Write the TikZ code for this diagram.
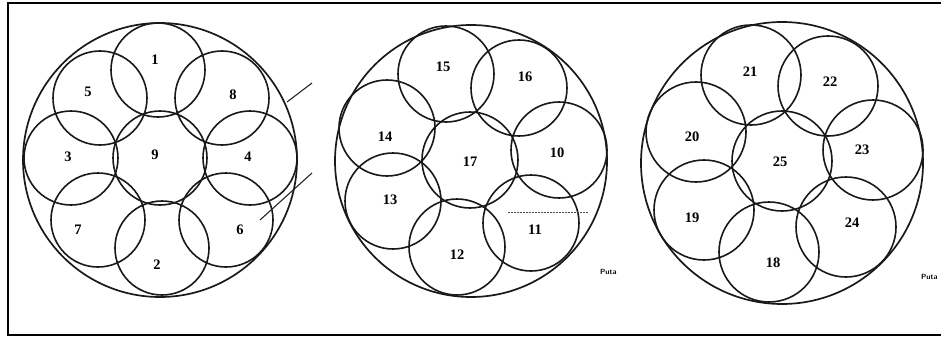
\documentclass[tikz,border=0pt]{standalone}
\usepackage{fontspec}
\setmainfont{Liberation Serif}
\usepackage{tikz}
\usetikzlibrary{positioning, calc}

\begin{document}
\begin{tikzpicture}[
  x=1pt, y=-1pt,
  every node/.style={font=\bfseries},
  outer/.style={draw=black!90, line width=1.7pt},
  cell/.style={draw=black!90, line width=1.6pt},
  num/.style={font=\fontsize{14.5}{14.5}\selectfont\bfseries, inner sep=0pt},
  tag/.style={font=\fontsize{7.5}{7.5}\selectfont\sffamily\bfseries, inner sep=0pt},
  lead/.style={draw=black!85, line width=1.1pt}
]
\useasboundingbox (0,0) rectangle (941,337);

% Frame
\draw[line width=1.8pt] (941,3) -- (8,3) -- (8,335) -- (941,335);

% Panel 1: ring of eight cells
\draw[outer] (160,160) circle (137);
\draw[cell] (160,158) circle (47);
\draw[cell] (158,70) circle (47);
\draw[cell] (100,98) circle (47);
\draw[cell] (222,98) circle (47);
\draw[cell] (71,158) circle (47);
\draw[cell] (250,158) circle (47);
\draw[cell] (98,220) circle (47);
\draw[cell] (226,220) circle (47);
\draw[cell] (162,248) circle (47);

\node[num] (n1) at (155,60) {1};
\node[num] (n5) at (88,92) {5};
\node[num] (n8) at (233,95) {8};
\node[num] (n3) at (68,157) {3};
\node[num] (n9) at (155,155) {9};
\node[num] (n4) at (248,157) {4};
\node[num] (n7) at (78,230) {7};
\node[num] (n6) at (240,230) {6};
\node[num] (n2) at (157,265) {2};

% Leader lines
\coordinate (p1a) at (287,102);
\coordinate (p1b) at (312,83);
\coordinate (p2a) at (260,220);
\coordinate (p2b) at (312,173);
\draw[lead] (p1a) -- (p1b);
\draw[lead] (p2a) -- (p2b);

% Panel 2: ring of seven cells
\draw[outer] (471,161) circle (136);
\draw[cell] (470,160) circle (48);
\draw[cell] (446,74) circle (48);
\draw[cell] (519,88) circle (48);
\draw[cell] (559,150) circle (48);
\draw[cell] (531,223) circle (48);
\draw[cell] (457,247) circle (48);
\draw[cell] (393,201) circle (48);
\draw[cell] (387,128) circle (48);

\node[num] (n15) at (443,67) {15};
\node[num] (n16) at (525,77) {16};
\node[num] (n14) at (385,137) {14};
\node[num] (n17) at (470,162) {17};
\node[num] (n10) at (557,153) {10};
\node[num] (n13) at (390,200) {13};
\node[num] (n11) at (535,230) {11};
\node[num] (n12) at (457,255) {12};

\coordinate (d1) at (508,212);
\coordinate (d2) at (588,212);
\draw[black!70, line width=0.7pt, dash pattern=on 2pt off 1pt] (d1) -- (d2);
\node[tag, anchor=west] (puta1) at (600,272) {Puta};

% Panel 3: ring of seven cells
\draw[outer] (782,163) circle (141);
\draw[cell] (782,161) circle (50);
\draw[cell] (751,75) circle (50);
\draw[cell] (828,86) circle (50);
\draw[cell] (873,150) circle (50);
\draw[cell] (846,227) circle (50);
\draw[cell] (769,252) circle (50);
\draw[cell] (704,210) circle (50);
\draw[cell] (696,132) circle (50);

\node[num] (n21) at (750,72) {21};
\node[num] (n22) at (830,82) {22};
\node[num] (n20) at (692,137) {20};
\node[num] (n25) at (780,162) {25};
\node[num] (n23) at (862,150) {23};
\node[num] (n19) at (692,218) {19};
\node[num] (n24) at (852,223) {24};
\node[num] (n18) at (773,263) {18};
\node[tag, anchor=west] (puta2) at (921,277) {Puta};

\end{tikzpicture}
\end{document}
